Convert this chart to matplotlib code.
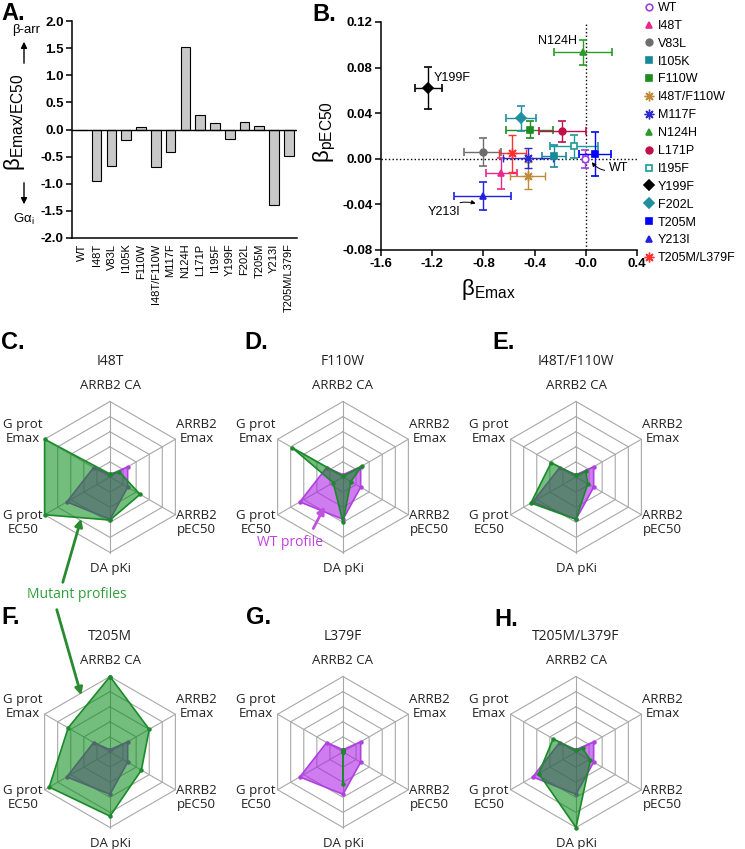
import numpy as np
import matplotlib
matplotlib.use('Agg')
import matplotlib.pyplot as plt
from matplotlib.lines import Line2D

plt.rcParams['font.family'] = ['Liberation Sans', 'DejaVu Sans']
plt.rcParams['mathtext.fontset'] = 'custom'
plt.rcParams['mathtext.rm'] = 'Liberation Sans'
plt.rcParams['mathtext.it'] = 'Liberation Sans:italic'
plt.rcParams['mathtext.bf'] = 'Liberation Sans:bold'

W, H = 745, 849

# ---- data ----
mutants = ['WT', 'I48T', 'V83L', 'I105K', 'F110W', 'I48T/F110W', 'M117F', 'N124H',
           'L171P', 'I195F', 'Y199F', 'F202L', 'T205M', 'Y213I', 'T205M/L379F']
# panel A
bias_ratio = [0.0, -0.95, -0.68, -0.20, 0.04, -0.70, -0.42, 1.52,
              0.26, 0.12, -0.17, 0.14, 0.07, -1.40, -0.48]
# panel B
beta_emax = [-0.005, -0.659, -0.805, -0.248, -0.437, -0.452, -0.45, -0.021,
             -0.183, -0.092, -1.229, -0.505, 0.073, -0.805, -0.575]
beta_emax_err = [0.02, 0.118, 0.144, 0.091, 0.183, 0.137, 0.196, 0.229,
                 0.183, 0.186, 0.108, 0.119, 0.124, 0.222, 0.105]
beta_pec50 = [0.0, -0.0126, 0.0058, 0.0023, 0.0257, -0.0149, 0.0009, 0.0936,
              0.0243, 0.0108, 0.062, 0.0357, 0.0041, -0.033, 0.0047]
beta_pec50_err = [0.008, 0.0135, 0.0124, 0.0095, 0.0073, 0.012, 0.009, 0.011,
                  0.0092, 0.010, 0.0187, 0.011, 0.019, 0.0123, 0.016]

# radar panels (normalised 0-1), axes clockwise from top
radar_labels = ['ARRB2 CA', 'ARRB2\nEmax', 'ARRB2\npEC50', 'DA pKi', 'G prot\nEC50', 'G prot\nEmax']
wt_profile = [0.03, 0.27, 0.27, 0.56, 0.66, 0.25]
i48t_profile = [0.04, 0.14, 0.46, 0.57, 1.0, 1.0]
f110w_profile = [0.01, 0.29, 0.12, 0.60, 0.15, 0.78]
i48t_f110w_profile = [0.02, 0.15, 0.18, 0.56, 0.69, 0.38]
t205m_profile = [1.0, 0.60, 0.48, 0.85, 0.93, 0.64]
l379f_profile = [0.02, 0.0, 0.0, 0.42, 0.0, 0.0]
t205m_l379f_profile = [0.02, 0.10, 0.22, 1.0, 0.57, 0.35]

# marker styles for panel B
STAR = (8, 2, 0)
styles = {
    'WT': dict(marker='o', color='#a040e0', mfc='white'),
    'I48T': dict(marker='^', color='#e8288a'),
    'V83L': dict(marker='o', color='#6e6e6e'),
    'I105K': dict(marker='s', color='#178a9a'),
    'F110W': dict(marker='s', color='#1e8c1e'),
    'I48T/F110W': dict(marker=STAR, color='#c08a3a'),
    'M117F': dict(marker=STAR, color='#2a2ad0'),
    'N124H': dict(marker='^', color='#2a9a2a'),
    'L171P': dict(marker='o', color='#c0104a'),
    'I195F': dict(marker='s', color='#1a9a9a', mfc='white'),
    'Y199F': dict(marker='D', color='black'),
    'F202L': dict(marker='D', color='#2090a0'),
    'T205M': dict(marker='s', color='#0000ff'),
    'Y213I': dict(marker='^', color='#2020e0'),
    'T205M/L379F': dict(marker=STAR, color='#ff3030'),
}


def marker_kw(st):
    is_star = st['marker'] == STAR
    return dict(marker=st['marker'], color=st['color'], mfc=st.get('mfc', st['color']),
                mec=st['color'], ms=7 if is_star else 4.8, mew=1.0 if is_star else 1.2)


fig = plt.figure(figsize=(W / 100, H / 100), dpi=100)


def px_axes(x0, y0, x1, y1):
    return fig.add_axes([x0 / W, 1 - y1 / H, (x1 - x0) / W, (y1 - y0) / H])


# ---- panel A ----
axA = px_axes(72, 21, 297, 238)
xpos = np.arange(len(mutants))
axA.bar(xpos, bias_ratio, width=0.65, color='#c8c8c8', edgecolor='black', linewidth=0.8, zorder=2)
axA.axhline(0, color='black', lw=1, zorder=3)
axA.set_xlim(-0.67, 14.55)
axA.set_ylim(-2.0, 2.0)
axA.set_yticks(np.arange(-2.0, 2.01, 0.5))
axA.set_yticklabels(['%.1f' % v for v in np.arange(-2.0, 2.01, 0.5)], fontweight='bold', fontsize=9.5)
axA.set_xticks(xpos)
axA.set_xticklabels(mutants, rotation=90, fontsize=8)
axA.tick_params(axis='x', length=0, pad=4)
axA.tick_params(axis='y', length=4, width=1.1, pad=2)
for s in ['top', 'right']:
    axA.spines[s].set_visible(False)
for s in ['left', 'bottom']:
    axA.spines[s].set_linewidth(1.1)

# ---- panel B ----
axB = px_axes(381, 22, 637, 250)
for i, m in enumerate(mutants):
    axB.errorbar(beta_emax[i], beta_pec50[i], xerr=beta_emax_err[i], yerr=beta_pec50_err[i],
                 capsize=3, elinewidth=1, capthick=1, ls='none', zorder=3, **marker_kw(styles[m]))
axB.axvline(0, color='black', ls=':', lw=1, zorder=1)
axB.axhline(0, color='black', ls=':', lw=1, zorder=1)
axB.set_xlim(-1.6, 0.4)
axB.set_ylim(-0.08, 0.12)
xt = [-1.6, -1.2, -0.8, -0.4, 0.0, 0.4]
axB.set_xticks(xt)
axB.set_xticklabels(['-1.6', '-1.2', '-0.8', '-0.4', '-0.0', '0.4'], fontweight='bold', fontsize=9.5)
yt = [-0.08, -0.04, 0.0, 0.04, 0.08, 0.12]
axB.set_yticks(yt)
axB.set_yticklabels(['%.2f' % v for v in yt], fontweight='bold', fontsize=9.5)
axB.tick_params(length=4, width=1.1, pad=2)
for s in ['top', 'right']:
    axB.spines[s].set_visible(False)
for s in ['left', 'bottom']:
    axB.spines[s].set_linewidth(1.1)

axB.text(-1.19, 0.071, 'Y199F', fontsize=9, va='center', ha='left')
axB.text(-0.07, 0.103, 'N124H', fontsize=9, va='center', ha='right')
axB.annotate('WT', xy=(0.04, -0.002), xytext=(0.18, -0.008), fontsize=9, va='center', ha='left',
             arrowprops=dict(arrowstyle='-|>', color='black', lw=0.7, mutation_scale=6,
                             connectionstyle='arc3,rad=-0.4', shrinkA=1, shrinkB=1))
axB.annotate('Y213I', xy=(-0.85, -0.0395), xytext=(-0.98, -0.0465), fontsize=9, va='center', ha='right',
             arrowprops=dict(arrowstyle='-|>', color='black', lw=0.7, mutation_scale=6,
                             connectionstyle='arc3,rad=-0.3', shrinkA=1, shrinkB=1))

handles = [Line2D([], [], ls='none', **marker_kw(styles[m])) for m in mutants]
fig.legend(handles, mutants, loc='upper left', bbox_to_anchor=(644 / W, 1 - 2 / H),
           frameon=False, fontsize=9, handlelength=0.8, handletextpad=0.3,
           labelspacing=0.47, borderpad=0, borderaxespad=0)

# ---- radar panels ----
GREEN_FILL = '#008a10'
GREEN_EDGE = '#1a8a2a'
MAG_FILL = '#ac1ee6'
MAG_EDGE = '#b040e0'
angles = np.deg2rad(90 - 60 * np.arange(6))
R = 75.5
label_pos = [(0, 1.21), (1.15, 0.6), (1.15, -0.6), (0, -1.21), (-1.15, -0.6), (-1.15, 0.6)]


def radar(cx, cy, title, values):
    half = 118
    ax = px_axes(cx - half, cy - half, cx + half, cy + half)
    ax.patch.set_visible(False)
    lim = half / R
    ax.set_xlim(-lim, lim)
    ax.set_ylim(-lim, lim)
    ax.axis('off')
    ca, sa = np.cos(angles), np.sin(angles)
    for lvl in [0.2, 0.4, 0.6, 0.8, 1.0]:
        ax.plot(np.append(ca, ca[0]) * lvl, np.append(sa, sa[0]) * lvl, color='#a8a8a8', lw=0.8, zorder=1)
    for a in range(6):
        ax.plot([0, ca[a]], [0, sa[a]], color='#a8a8a8', lw=0.8, zorder=1)
    for vals, fc, ec, alpha, z in [(wt_profile, MAG_FILL, MAG_EDGE, 0.58, 2),
                                   (values, GREEN_FILL, GREEN_EDGE, 0.55, 3)]:
        v = np.array(vals)
        xs, ys = v * ca, v * sa
        ax.fill(xs, ys, color=fc, alpha=alpha, lw=0, zorder=z)
        ax.plot(np.append(xs, xs[0]), np.append(ys, ys[0]), color=ec, lw=1.2, zorder=z + 0.5,
                marker='o', ms=2.2)
    for lab, (lx, ly) in zip(radar_labels, label_pos):
        ax.text(lx, ly, lab, ha='center', va='center', fontsize=9.5, family='Open Sans',
                linespacing=1.15, color='#222222')
    ax.text(0, 1.53, title, ha='center', va='center', fontsize=10, family='Open Sans', color='#222222')


radar(110, 477, 'I48T', i48t_profile)
radar(343, 477, 'F110W', f110w_profile)
radar(576, 477, 'I48T/F110W', i48t_f110w_profile)
radar(110, 752, 'T205M', t205m_profile)
radar(343, 752, 'L379F', l379f_profile)
radar(576, 752, 'T205M/L379F', t205m_l379f_profile)

# ---- overlay: letters, labels, arrows ----
ov = fig.add_axes([0, 0, 1, 1])
ov.patch.set_visible(False)
ov.set_xlim(0, W)
ov.set_ylim(H, 0)
ov.axis('off')

for lt, x, y in [('A.', 1, 13), ('B.', 312, 14), ('C.', 1, 342), ('D.', 244, 342), ('E.', 492, 342),
                 ('F.', 1, 617), ('G.', 246, 617), ('H.', 494, 619)]:
    ov.text(x, y, lt, fontsize=17, fontweight='bold', ha='left', va='center')

ov.text(15, 122, 'β$_{\\mathrm{Emax/EC50}}$', fontsize=16, rotation=90, ha='center', va='center')
ov.text(26, 30, 'β-arr', fontsize=9.5, ha='center', va='center')
ov.text(24, 219, 'Gα$_{\\mathrm{i}}$', fontsize=9.5, ha='center', va='center')
ov.annotate('', xy=(24, 39), xytext=(24, 66),
            arrowprops=dict(arrowstyle='-|>', color='black', lw=1, mutation_scale=9))
ov.annotate('', xy=(24, 207), xytext=(24, 180),
            arrowprops=dict(arrowstyle='-|>', color='black', lw=1, mutation_scale=9))

ov.text(325, 132, 'β$_{\\mathrm{pEC50}}$', fontsize=16, rotation=90, ha='center', va='center')
ov.text(488, 290, 'β$_{\\mathrm{Emax}}$', fontsize=16, ha='center', va='center')

ov.text(77, 595, 'Mutant profiles', fontsize=10, family='Open Sans', color='#2e9e3a', ha='center', va='center')
ov.annotate('', xy=(82, 516), xytext=(62, 585),
            arrowprops=dict(arrowstyle='-|>', color='#2a8a30', lw=2, mutation_scale=11))
ov.annotate('', xy=(82, 698), xytext=(56, 607),
            arrowprops=dict(arrowstyle='-|>', color='#2a8a30', lw=2, mutation_scale=11))
ov.text(290, 543, 'WT profile', fontsize=10, family='Open Sans', color='#c040e0', ha='center', va='center')
ov.annotate('', xy=(326, 504), xytext=(312, 531),
            arrowprops=dict(arrowstyle='-|>', color='#c050e0', lw=2, mutation_scale=11))

fig.savefig('out.png', dpi=100)
